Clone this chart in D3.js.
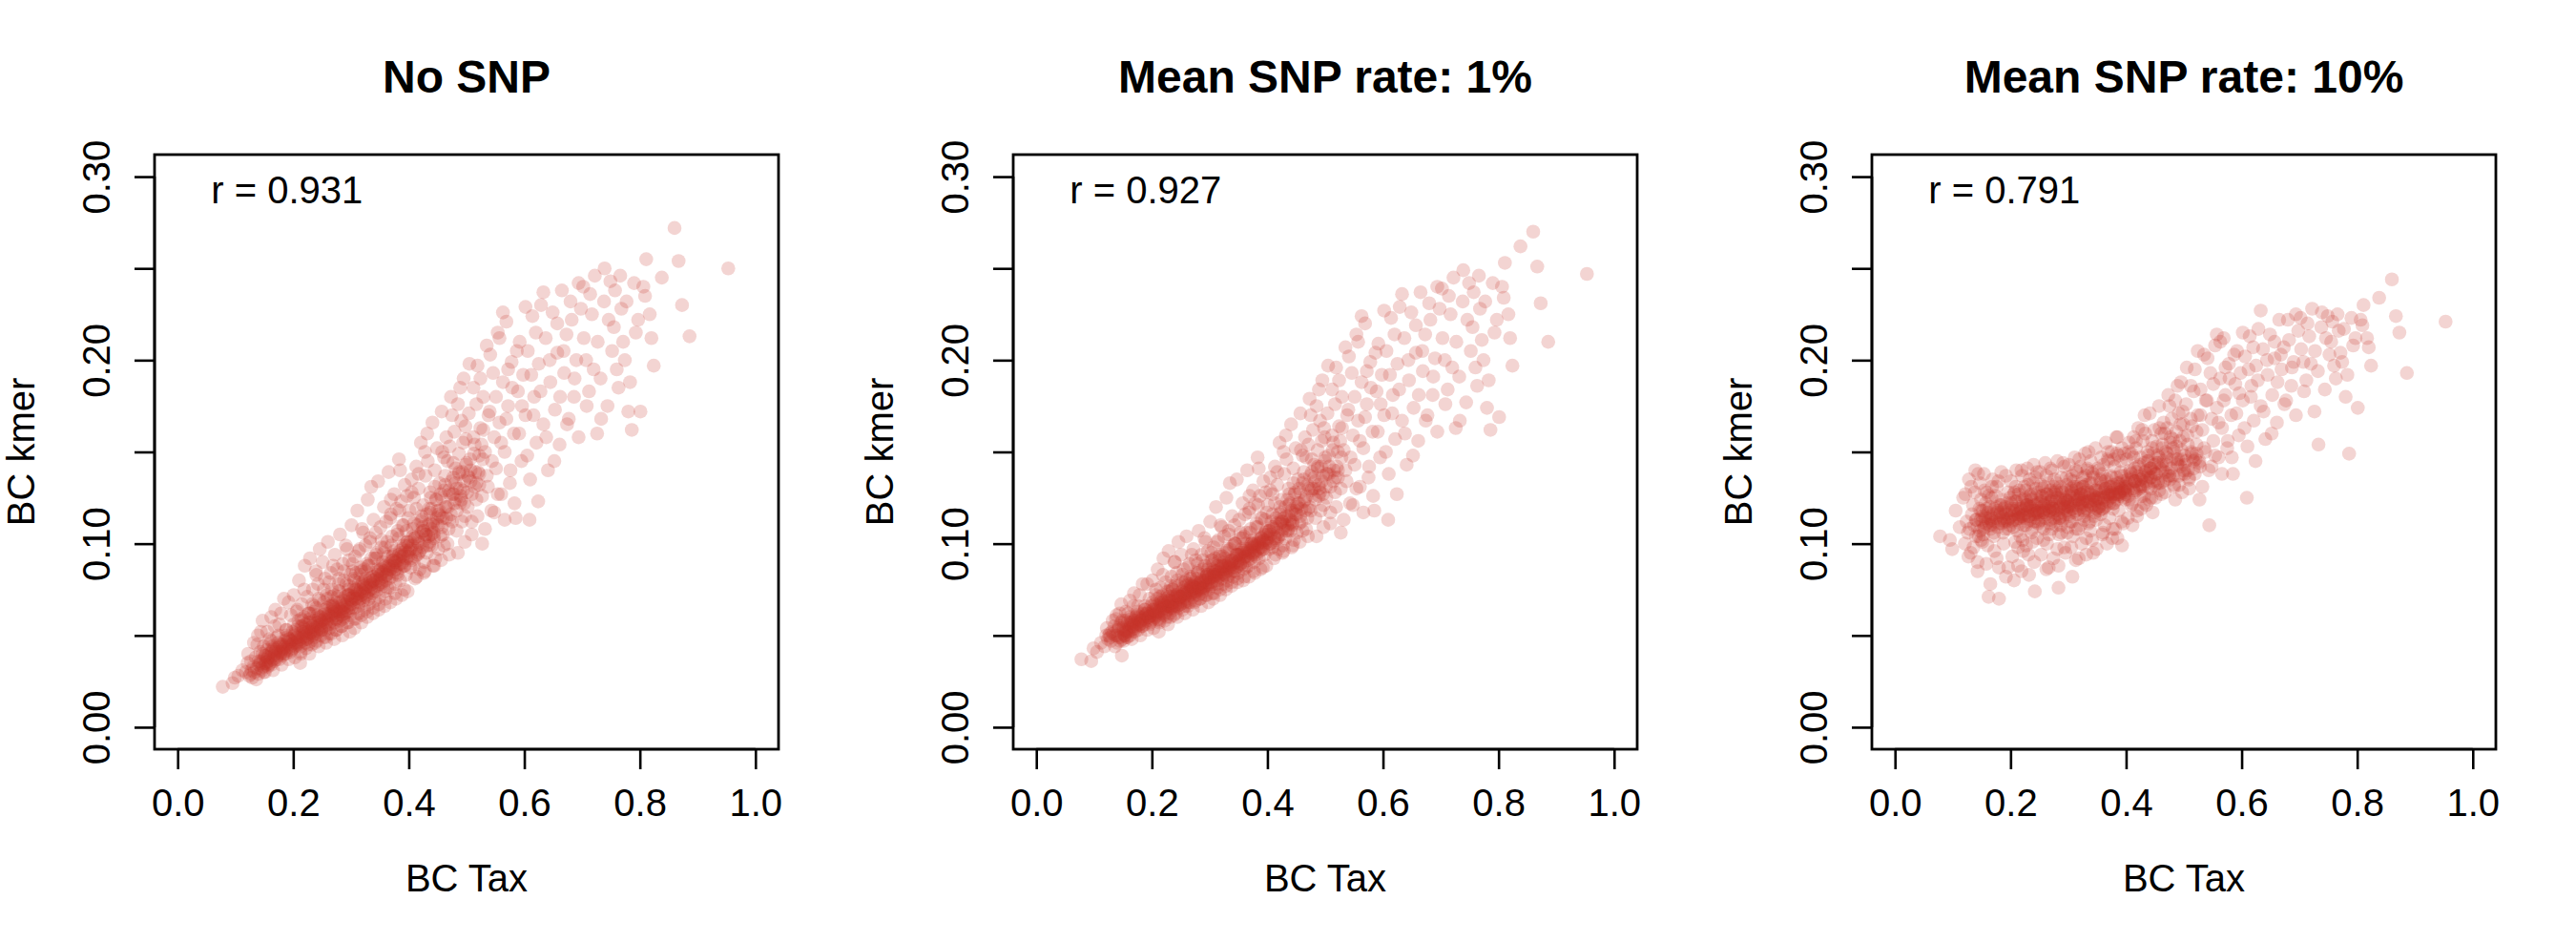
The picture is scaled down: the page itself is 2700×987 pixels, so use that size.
<!DOCTYPE html>
<html>
<head>
<meta charset="utf-8">
<script src="https://cdn.jsdelivr.net/npm/d3@7"></script>
<style>
html,body{margin:0;padding:0;background:#fff;}
svg{display:block;}
text{font-family:"Liberation Sans",Arial,Helvetica,sans-serif;fill:#000;}
</style>
</head>
<body>
<svg id="chart" width="2700" height="987"></svg>
<script>
// ---------------- data ----------------
const panelTitles = ["No SNP", "Mean SNP rate: 1%", "Mean SNP rate: 10%"];
const rLabels = ["r = 0.931", "r = 0.927", "r = 0.791"];
const xTicks = [0, 0.2, 0.4, 0.6, 0.8, 1.0];
const xTickLabels = ["0.0", "0.2", "0.4", "0.6", "0.8", "1.0"];
const yTicks = [0, 0.05, 0.10, 0.15, 0.20, 0.25, 0.30];
const yTickLabels = ["0.00", "", "0.10", "", "0.20", "", "0.30"];
const xLabel = "BC Tax";
const yLabel = "BC kmer";

// BC Tax (shared by all panels)
const xTax = [
.078,.095,.099,
.105,.112,.118,.121,.124,.126,.128,.129,.131,.133,.135,.137,.138,.140,.141,.143,.144,.146,.147,.148,.149,.149,
.151,.152,.153,.154,.155,.156,.157,.158,.159,.160,.161,.162,.163,.164,.165,.166,.167,.168,.169,.170,.171,.172,.173,.174,.175,.176,.177,.178,.179,.180,.181,.182,.183,.184,.185,.186,.187,.188,.189,.190,.191,.192,.193,.194,.195,.196,.197,.198,.199,.199,
.201,.202,.203,.204,.205,.206,.207,.208,.209,.210,.211,.212,.213,.214,.215,.216,.217,.218,.219,.220,.221,.222,.223,.224,.225,.226,.227,.228,.229,.230,.231,.232,.233,.234,.235,.236,.237,.238,.239,.240,.240,.241,.242,.243,.244,.245,.246,.246,.247,.248,.249,.249,.207,.213,.219,.226,.233,.238,.244,.221,.229,.236,
.251,.252,.253,.254,.255,.256,.257,.258,.259,.260,.261,.262,.263,.264,.265,.266,.267,.268,.269,.270,.271,.272,.273,.274,.275,.276,.277,.278,.279,.280,.281,.282,.283,.284,.285,.286,.287,.288,.289,.290,.291,.292,.293,.294,.295,.296,.297,.298,.299,.299,.253,.257,.262,.266,.271,.275,.279,.284,.288,.293,.297,.259,.268,.277,.286,.295,
.301,.302,.303,.304,.305,.306,.307,.308,.309,.310,.311,.312,.313,.314,.315,.316,.317,.318,.319,.320,.321,.322,.323,.324,.325,.326,.327,.328,.329,.330,.331,.332,.333,.334,.335,.336,.337,.338,.339,.340,.341,.342,.343,.344,.345,.346,.347,.348,.349,.303,.308,.313,.318,.323,.328,.333,.338,.343,.348,.306,.316,.326,
.351,.352,.353,.354,.355,.356,.357,.358,.359,.360,.361,.362,.363,.364,.365,.366,.367,.368,.369,.370,.371,.372,.373,.374,.375,.376,.377,.378,.379,.380,.381,.382,.383,.384,.385,.386,.387,.388,.389,.390,.391,.392,.393,.394,.395,.396,.397,.398,.399,.353,.360,.368,.376,.384,.392,
.401,.403,.404,.406,.407,.409,.410,.412,.413,.415,.416,.418,.419,.421,.422,.424,.425,.427,.428,.430,.431,.433,.434,.436,.437,.439,.440,.442,.443,.445,.446,.448,.449,.405,.411,.417,.426,.432,.438,.444,
.451,.453,.455,.457,.459,.461,.463,.465,.467,.469,.471,.473,.475,.477,.479,.481,.483,.485,.487,.489,.490,.492,.494,.496,.497,.498,.499,.458,
.502,.505,.507,.509,.512,.514,.517,.519,.522,.524,.527,.529,.532,.535,.538,.541,.544,.548,
.551,.554,.557,.560,.563,.566,.569,.572,.576,.579,.583,.587,.591,.596,
.602,.605,.609,.612,.616,.620,.624,.628,.633,.638,.644,
.652,.657,.662,.668,.674,.680,.687,.694,
.703,.708,.714,.720,.726,.733,.739,.746,
.752,.757,.763,.768,.774,.780,.786,.793,
.801,.806,.811,.817,.824,.838,
.860,.867,.873,.886,
.953,
.122,.127,.132,.136,.139,.143,.147,.151,.155,.158,.162,.165,.169,.172,.176,.180,.184,.188,.192,.196,
.201,.203,.206,.208,.210,.213,.215,.217,.220,.222,.224,.227,.229,.232,.234,.236,.239,.241,.243,.246,.248,.251,.253,.255,.258,.260,.262,.265,.267,.269,.272,.274,.276,.279,.281,.283,.286,.288,.290,.293,.295,.297,.299,.212,.228,.244,.257,.271,.285,.298,
.301,.303,.305,.307,.309,.311,.313,.315,.317,.319,.321,.323,.325,.327,.329,.331,.333,.335,.337,.339,.341,.343,.345,.347,.349,.351,.353,.355,.357,.359,.361,.363,.365,.367,.369,.371,.373,.375,.377,.379,.381,.383,.385,.387,.389,.391,.393,.395,.397,.399,.306,.318,.328,.338,.348,.358,.368,.378,.388,.398,
.401,.403,.405,.407,.409,.411,.413,.415,.417,.419,.421,.423,.425,.427,.429,.431,.433,.435,.437,.439,.441,.443,.445,.447,.449,.451,.453,.455,.457,.459,.461,.463,.465,.467,.469,.471,.473,.475,.477,.479,.481,.483,.485,.487,.489,.491,.493,.495,.497,.499,.414,.428,.442,.456,.470,
.501,.504,.506,.509,.512,.514,.517,.519,.522,.524,.527,.529,.532,.535,.537,.540,.543,.546,.548,.551,.554,.557,.560,.563,.566,.569,.572,.575,.578,.582,.585,.589,.592,.595,.598,
.602,.606,.610,.614,.617,.621,.625,.629,.633,.637,.641,.645,.649,.653,.657,.661,.665,.669,.673,.677,.682,.686,.690,.694,.698,
.702,.707,.712,.717,.722,.727,.732,.738,.744,.749,.755,.760,.766,.771,.777,.783,.790,.797,.809,.820,
.140,.153,.166,.179,.192,.205,.218,.231,.244,.257,.270,.283,.296,.309,.322,.335,.348,.361,.374,.387,.400,.413,.426,.439,.452,.465,.478,.491,.504,.517,
.145,.158,.171,.184,.197,.210,.223,.236,.249,.262,.275,.288,.301,.314,.327,.340,.353,.366,.379,.392,.405,.418,.431,.444,.457,.470,.483,.496,.509,.522,
.149,.162,.175,.188,.201,.214,.227,.240,.253,.266,.279,.292,.305,.318,.331,.344,.357,.370,.383,.396,.409,.422,.435,.448,.461,.474,.487,.500,.513,.526,
.143,.156,.169,.182,.195,.208,.221,.234,.247,.260,.273,.286,.299,.312,.325,.338,.351,.364,.377,.390,.403,.416,.429,.442,.455,.468,.481,.494,.507,.520,
.151,.164,.177,.190,.203,.216,.229,.242,.255,.268,.281,.294,.307,.320,.333,.346,.359,.372,.385,.398,.411,.424,.437,.450,.463,.476,.489,.502,.515,.528
];

// BC kmer, No SNP
const yNoSnp = [
.022,.024,.027,
.028,.031,.030,.035,.028,.029,.031,.027,.033,.030,.038,.032,.045,.029,.034,.036,.052,.031,.040,.033,.037,.030,
.035,.039,.034,.042,.037,.033,.036,.040,.048,.035,.038,.034,.041,.044,.037,.039,.036,.055,.040,.042,.038,.043,.039,.046,.041,.037,.044,.040,.062,.042,.045,.039,.043,.041,.047,.044,.040,.050,.043,.046,.042,.068,.045,.048,.044,.041,.047,.045,.052,.043,
.046,.050,.044,.048,.053,.045,.049,.047,.058,.046,.051,.048,.044,.055,.050,.047,.052,.049,.075,.051,.046,.053,.050,.048,.057,.052,.049,.054,.051,.062,.047,.053,.055,.050,.052,.058,.049,.054,.056,.051,.083,.053,.057,.055,.052,.060,.054,.097,.056,.050,.058,.053,.064,.040,.060,.045,.067,.046,.070,.056,.059,.063,
.057,.061,.055,.059,.064,.053,.060,.058,.070,.056,.062,.059,.054,.066,.061,.058,.063,.060,.088,.062,.057,.064,.061,.059,.068,.063,.060,.065,.062,.074,.058,.064,.066,.061,.063,.069,.060,.065,.067,.062,.099,.064,.068,.066,.063,.072,.065,.061,.067,.070,.075,.049,.079,.051,.072,.053,.081,.055,.085,.057,.077,.065,.067,.071,.059,.075,
.069,.073,.067,.071,.076,.065,.072,.070,.084,.068,.074,.071,.066,.079,.073,.070,.075,.072,.108,.074,.069,.077,.073,.071,.081,.076,.072,.078,.074,.088,.070,.077,.079,.075,.131,.078,.073,.080,.082,.076,.092,.079,.074,.081,.083,.077,.085,.080,.078,.089,.059,.096,.061,.086,.063,.101,.065,.094,.067,.080,.083,.085,
.081,.086,.079,.084,.090,.077,.085,.082,.098,.080,.087,.083,.076,.093,.088,.084,.089,.086,.124,.088,.082,.091,.087,.085,.096,.090,.086,.092,.088,.105,.083,.091,.094,.089,.140,.093,.087,.095,.097,.090,.110,.094,.088,.096,.099,.092,.101,.095,.093,.102,.070,.114,.073,.118,.075,
.096,.101,.092,.099,.108,.089,.103,.097,.119,.094,.104,.100,.086,.112,.106,.098,.107,.102,.150,.105,.095,.110,.104,.101,.117,.108,.099,.112,.106,.131,.092,.111,.114,.128,.081,.138,.084,.160,.125,.088,
.110,.118,.104,.125,.114,.099,.132,.120,.145,.108,.127,.116,.170,.136,.122,.141,.130,.095,.138,.185,.126,.112,.155,.134,.101,.164,.143,.150,
.120,.198,.140,.105,.158,.131,.176,.115,.148,.190,.126,.162,.108,.137,.170,.203,.145,.117,
.180,.127,.212,.155,.226,.113,.168,.195,.140,.185,.122,.205,.160,.175,
.229,.148,.113,.192,.170,.215,.123,.183,.237,.158,.200,
.145,.220,.180,.205,.165,.232,.190,.242,
.212,.175,.236,.195,.160,.168,.250,.222,
.205,.238,.185,.228,.200,.172,.162,.215,
.172,.240,.255,.225,.197,.245,
.272,.254,.230,.213,
.250,
.040,.036,.046,.026,.050,.041,.058,.030,.052,.045,.060,.031,.064,.049,.056,.034,.070,.053,.037,.061,
.072,.038,.063,.055,.080,.041,.067,.058,.088,.043,.071,.062,.092,.045,.075,.066,.085,.047,.078,.069,.060,.090,.049,.081,.072,.101,.051,.084,.075,.066,.094,.053,.086,.078,.105,.055,.089,.080,.071,.097,.057,.091,.083,.035,.040,.044,.046,.048,.050,.052,
.110,.085,.059,.093,.075,.118,.062,.097,.087,.078,.106,.064,.099,.089,.124,.067,.103,.092,.082,.113,.069,.106,.095,.134,.071,.109,.098,.088,.120,.074,.112,.101,.139,.076,.116,.104,.094,.127,.078,.119,.107,.146,.080,.123,.110,.099,.132,.083,.126,.114,.054,.057,.060,.062,.064,.066,.068,.070,.072,.074,
.118,.087,.135,.104,.125,.093,.142,.110,.130,.096,.155,.113,.121,.090,.137,.116,.145,.099,.128,.119,.166,.103,.140,.124,.152,.097,.133,.127,.172,.105,.147,.137,.158,.100,.129,.153,.180,.112,.144,.161,.133,.107,.176,.149,.122,.167,.139,.190,.115,.157,.082,.085,.088,.091,.094,
.128,.171,.146,.112,.185,.154,.124,.197,.138,.163,.100,.180,.150,.208,.131,.172,.118,.193,.158,.141,.215,.166,.127,.188,.150,.221,.175,.133,.199,.160,.114,.183,.210,.145,.192,
.170,.205,.135,.224,.180,.155,.198,.230,.165,.212,.140,.188,.226,.173,.204,.154,.238,.193,.214,.168,.222,.180,.200,.158,.228,
.240,.200,.183,.225,.246,.210,.190,.232,.175,.243,.218,.195,.246,.210,.232,.188,.242,.222,.235,.212,
.036,.035,.043,.041,.048,.046,.054,.052,.059,.057,.065,.063,.072,.070,.078,.076,.085,.083,.091,.089,.099,.096,.107,.105,.116,.114,.127,.124,.136,.133,
.032,.034,.037,.040,.042,.045,.048,.051,.053,.056,.059,.062,.065,.068,.071,.074,.078,.081,.084,.088,.091,.095,.099,.104,.109,.113,.118,.122,.127,.132,
.044,.047,.050,.053,.056,.059,.062,.065,.068,.071,.074,.078,.081,.085,.088,.092,.095,.099,.103,.107,.111,.115,.119,.124,.129,.134,.139,.144,.149,.154,
.035,.038,.041,.044,.047,.049,.052,.055,.058,.061,.064,.067,.070,.073,.076,.080,.083,.086,.090,.093,.097,.101,.105,.110,.115,.120,.124,.129,.134,.139,
.039,.042,.045,.049,.051,.055,.057,.061,.062,.066,.068,.072,.075,.079,.081,.086,.088,.093,.096,.101,.103,.109,.111,.118,.120,.127,.130,.137,.139,.146
];

// BC kmer, mean SNP rate 1%
const ySnp1 = [
.037,.036,.043,
.041,.046,.044,.050,.048,.050,.049,.047,.052,.051,.055,.050,.059,.046,.053,.054,.062,.049,.057,.039,.054,.048,
.051,.055,.050,.058,.053,.049,.052,.056,.062,.052,.054,.050,.057,.059,.053,.055,.052,.066,.056,.058,.054,.059,.055,.061,.057,.053,.060,.056,.072,.058,.060,.055,.059,.057,.062,.060,.056,.064,.059,.061,.058,.078,.060,.063,.060,.056,.062,.061,.066,.058,
.061,.064,.059,.063,.067,.060,.064,.062,.070,.061,.065,.063,.059,.068,.065,.062,.066,.064,.083,.065,.061,.067,.065,.063,.070,.066,.064,.068,.066,.074,.062,.067,.069,.065,.066,.071,.064,.068,.070,.066,.090,.067,.071,.069,.066,.073,.068,.101,.070,.065,.071,.067,.075,.058,.072,.060,.077,.061,.080,.069,.071,.075,
.071,.074,.069,.072,.076,.068,.073,.072,.080,.070,.075,.073,.068,.078,.074,.072,.076,.073,.094,.075,.071,.077,.074,.073,.079,.076,.074,.077,.075,.084,.072,.077,.079,.075,.076,.080,.074,.078,.079,.076,.103,.077,.080,.079,.077,.083,.078,.075,.079,.081,.083,.066,.087,.068,.082,.069,.089,.070,.091,.072,.086,.077,.078,.081,.073,.084,
.081,.084,.079,.082,.086,.078,.083,.082,.092,.080,.085,.083,.078,.088,.084,.082,.086,.083,.110,.085,.081,.087,.084,.083,.090,.086,.084,.088,.085,.096,.082,.087,.089,.086,.133,.088,.084,.090,.091,.087,.099,.089,.085,.090,.092,.087,.094,.090,.088,.095,.073,.101,.075,.093,.077,.105,.079,.100,.081,.089,.091,.092,
.091,.094,.089,.093,.097,.088,.094,.092,.104,.090,.095,.093,.087,.100,.096,.093,.097,.095,.126,.096,.092,.098,.095,.094,.102,.098,.095,.099,.096,.109,.093,.099,.100,.097,.141,.100,.096,.101,.103,.098,.114,.101,.097,.102,.105,.100,.106,.102,.101,.106,.082,.117,.085,.121,.087,
.103,.107,.100,.105,.112,.098,.109,.104,.122,.102,.109,.106,.097,.116,.111,.105,.112,.108,.150,.110,.103,.115,.110,.108,.121,.113,.107,.117,.112,.133,.102,.116,.118,.129,.092,.139,.095,.159,.127,.099,
.116,.122,.111,.128,.119,.107,.135,.124,.147,.114,.130,.120,.170,.139,.126,.143,.134,.104,.141,.184,.130,.118,.156,.137,.109,.163,.145,.151,
.125,.197,.142,.111,.159,.134,.176,.120,.150,.189,.130,.163,.113,.140,.170,.202,.147,.121,
.180,.130,.210,.156,.224,.117,.169,.194,.142,.185,.126,.204,.161,.176,
.227,.150,.113,.192,.171,.214,.127,.184,.236,.160,.200,
.148,.219,.181,.205,.167,.231,.191,.240,
.212,.176,.235,.196,.163,.167,.249,.222,
.205,.237,.186,.228,.200,.174,.162,.215,
.169,.240,.253,.225,.197,.262,
.270,.251,.231,.210,
.247,
.054,.051,.058,.044,.061,.055,.067,.047,.063,.057,.069,.048,.073,.060,.066,.050,.078,.064,.053,.070,
.080,.054,.072,.066,.086,.057,.076,.069,.092,.058,.079,.072,.096,.060,.082,.075,.090,.062,.084,.077,.071,.094,.064,.086,.079,.104,.066,.089,.081,.075,.097,.068,.091,.084,.107,.070,.094,.086,.080,.101,.072,.096,.088,.052,.056,.060,.062,.064,.066,.068,
.112,.091,.073,.098,.083,.120,.076,.102,.093,.086,.109,.078,.104,.095,.125,.080,.107,.097,.089,.115,.082,.110,.100,.135,.084,.113,.103,.095,.122,.086,.116,.106,.140,.088,.119,.108,.100,.129,.090,.122,.111,.147,.092,.126,.114,.104,.134,.094,.128,.117,.070,.072,.075,.077,.079,.080,.082,.084,.086,.088,
.121,.097,.136,.109,.127,.101,.142,.114,.132,.104,.155,.117,.124,.099,.138,.120,.146,.107,.130,.122,.165,.110,.141,.127,.152,.106,.135,.130,.171,.112,.148,.139,.158,.108,.132,.154,.179,.118,.146,.162,.136,.114,.175,.151,.126,.167,.142,.189,.121,.158,.094,.096,.098,.101,.104,
.131,.171,.148,.117,.184,.155,.128,.196,.140,.164,.106,.180,.151,.207,.134,.173,.122,.193,.159,.143,.214,.167,.131,.188,.152,.220,.176,.136,.199,.161,.118,.183,.209,.147,.192,
.170,.205,.138,.223,.181,.157,.198,.229,.167,.212,.143,.189,.226,.174,.204,.156,.237,.194,.214,.170,.222,.181,.201,.161,.228,
.239,.200,.184,.225,.245,.210,.191,.232,.177,.242,.218,.196,.246,.211,.232,.189,.242,.222,.234,.212,
.050,.050,.057,.056,.062,.061,.068,.066,.072,.071,.077,.076,.083,.082,.088,.087,.094,.093,.099,.098,.105,.103,.112,.111,.120,.118,.130,.128,.138,.136,
.047,.049,.052,.055,.057,.059,.062,.065,.067,.069,.072,.075,.077,.080,.083,.085,.089,.091,.094,.097,.100,.103,.107,.111,.115,.119,.124,.127,.131,.136,
.058,.060,.063,.066,.068,.071,.074,.077,.079,.082,.085,.088,.091,.094,.097,.100,.103,.106,.109,.113,.116,.120,.124,.128,.133,.137,.142,.147,.151,.156,
.049,.052,.055,.058,.060,.063,.066,.068,.071,.074,.076,.079,.082,.085,.088,.091,.094,.097,.100,.103,.107,.111,.114,.118,.122,.126,.130,.134,.138,.142,
.053,.056,.059,.062,.064,.067,.069,.072,.073,.077,.078,.082,.085,.088,.090,.094,.096,.100,.102,.107,.108,.113,.115,.121,.123,.129,.132,.138,.140,.147
];

// BC kmer, mean SNP rate 10%
const ySnp10 = [
.104,.102,.097,
.118,.109,.125,.100,.112,.106,.135,.108,.095,.116,.121,.110,.128,.104,.113,.090,.138,.119,.107,.113,.124,.102,
.112,.118,.105,.138,.109,.115,.122,.111,.128,.099,.117,.071,.114,.120,.108,.113,.125,.131,.110,.116,.104,.119,.112,.126,.114,.092,.118,.109,.134,.070,.121,.113,.117,.111,.124,.115,.106,.119,.113,.120,.108,.137,.116,.122,.112,.087,.118,.114,.125,.110,
.115,.121,.112,.118,.109,.080,.116,.123,.131,.113,.119,.107,.114,.127,.117,.111,.120,.115,.140,.118,.102,.122,.114,.116,.125,.119,.110,.121,.117,.132,.094,.115,.120,.113,.118,.124,.108,.119,.116,.112,.143,.121,.074,.118,.114,.126,.117,.139,.122,.111,.119,.116,.128,.098,.085,.129,.135,.101,.130,.124,.112,.127,
.118,.123,.113,.120,.126,.109,.117,.121,.131,.114,.119,.116,.100,.127,.122,.115,.118,.113,.141,.120,.108,.124,.117,.119,.128,.121,.112,.123,.118,.133,.097,.116,.076,.114,.120,.125,.110,.121,.117,.113,.144,.122,.119,.116,.124,.129,.118,.106,.120,.123,.132,.102,.137,.087,.126,.131,.129,.105,.136,.098,.132,.125,.111,.127,.115,.124,
.120,.126,.115,.122,.128,.112,.082,.119,.134,.117,.123,.118,.108,.130,.124,.116,.121,.119,.146,.125,.110,.127,.120,.122,.131,.124,.115,.126,.121,.137,.103,.119,.123,.118,.150,.125,.112,.127,.122,.120,.139,.124,.095,.126,.121,.117,.129,.123,.119,.135,.104,.140,.092,.133,.128,.141,.107,.136,.113,.129,.126,.131,
.124,.129,.120,.127,.133,.116,.125,.122,.138,.119,.128,.124,.110,.134,.130,.121,.126,.123,.150,.127,.114,.131,.125,.128,.136,.129,.119,.132,.126,.142,.108,.127,.130,.124,.158,.131,.118,.133,.128,.126,.145,.130,.099,.134,.129,.125,.137,.131,.127,.140,.106,.146,.103,.149,.112,
.131,.135,.126,.133,.140,.121,.136,.130,.147,.128,.134,.129,.115,.142,.137,.131,.135,.132,.162,.136,.122,.139,.134,.133,.145,.138,.124,.141,.136,.152,.117,.139,.143,.150,.110,.156,.119,.170,.148,.125,
.138,.144,.133,.147,.141,.127,.152,.145,.160,.135,.149,.139,.175,.155,.146,.157,.150,.124,.153,.186,.146,.132,.165,.151,.128,.172,.158,.163,
.143,.196,.154,.130,.168,.149,.183,.138,.161,.205,.145,.170,.131,.152,.178,.201,.110,.142,
.187,.148,.214,.166,.210,.138,.178,.196,.156,.190,.147,.203,.171,.182,
.215,.163,.125,.195,.180,.207,.145,.189,.227,.172,.200,
.160,.210,.188,.203,.176,.222,.196,.225,
.206,.183,.220,.198,.172,.154,.226,.212,
.203,.221,.190,.216,.199,.180,.149,.208,
.174,.222,.230,.212,.197,.234,
.244,.224,.215,.193,
.221,
.127,.093,.131,.098,.140,.085,.133,.101,.129,.089,.126,.078,.135,.096,.131,.087,.139,.100,.082,.128,
.134,.093,.127,.101,.140,.088,.129,.104,.137,.096,.131,.099,.141,.083,.126,.106,.133,.090,.136,.103,.128,.139,.094,.130,.108,.144,.086,.133,.105,.129,.140,.092,.135,.110,.145,.088,.131,.106,.128,.142,.095,.136,.109,.116,.121,.112,.118,.120,.114,.123,
.143,.112,.098,.137,.131,.147,.091,.139,.108,.130,.142,.100,.136,.113,.149,.094,.140,.111,.133,.145,.102,.138,.115,.152,.097,.141,.118,.135,.147,.105,.143,.120,.155,.100,.145,.122,.137,.150,.108,.146,.125,.158,.103,.148,.127,.139,.152,.111,.149,.130,.119,.124,.117,.121,.125,.119,.127,.122,.128,.124,
.146,.114,.155,.139,.149,.122,.158,.141,.152,.118,.163,.143,.147,.126,.156,.144,.160,.121,.150,.145,.171,.130,.156,.149,.162,.125,.153,.148,.175,.133,.160,.154,.166,.128,.150,.163,.181,.137,.158,.168,.152,.131,.178,.161,.144,.171,.156,.188,.138,.165,.134,.137,.141,.144,.147,
.148,.176,.159,.136,.186,.164,.145,.195,.154,.170,.124,.184,.162,.203,.150,.178,.140,.193,.168,.156,.208,.174,.147,.190,.163,.212,.181,.152,.198,.170,.138,.187,.205,.159,.193,
.178,.202,.153,.213,.186,.167,.197,.217,.175,.206,.157,.192,.214,.181,.201,.166,.222,.195,.207,.178,.211,.186,.199,.170,.216,
.223,.199,.189,.213,.228,.205,.194,.218,.184,.224,.210,.197,.225,.204,.217,.192,.223,.212,.219,.207,
.113,.108,.115,.111,.117,.113,.119,.115,.121,.117,.123,.119,.125,.121,.127,.123,.129,.125,.131,.127,.133,.129,.135,.131,.138,.134,.141,.137,.145,.141,
.104,.119,.106,.121,.108,.123,.110,.125,.112,.127,.114,.129,.116,.131,.118,.133,.120,.135,.122,.137,.124,.139,.126,.141,.129,.143,.132,.146,.135,.149,
.118,.112,.120,.114,.122,.116,.124,.118,.126,.120,.128,.122,.130,.124,.132,.126,.134,.128,.136,.130,.138,.132,.140,.134,.143,.137,.146,.140,.150,.144,
.109,.114,.111,.116,.113,.118,.115,.120,.117,.122,.119,.124,.121,.126,.123,.128,.125,.130,.127,.132,.129,.134,.131,.136,.134,.139,.137,.142,.140,.146,
.115,.110,.117,.112,.119,.114,.121,.116,.123,.118,.125,.120,.127,.122,.129,.124,.131,.126,.133,.128,.135,.130,.137,.132,.140,.135,.143,.138,.147,.142
];

const ySeries = [yNoSnp, ySnp1, ySnp10];

// ---------------- layout ----------------
const panelW = 900;
const box = {left: 162, right: 816, top: 162, bottom: 785};
const ptColor = "rgb(200,52,42)";

const svg = d3.select("#chart");

const x = d3.scaleLinear().domain([-0.04, 1.04]).range([box.left, box.right]);
const y = d3.scaleLinear().domain([-0.012, 0.312]).range([box.bottom, box.top]);

panelTitles.forEach((title, i) => {
  const g = svg.append("g").attr("transform", `translate(${i * panelW},0)`);
  const ys = ySeries[i];
  const n = Math.min(xTax.length, ys.length);

  // points
  const pts = d3.range(n).map(k => [xTax[k], ys[k]]);
  g.append("g").selectAll("circle").data(pts).join("circle")
    .attr("cx", d => x(d[0]))
    .attr("cy", d => y(d[1]))
    .attr("r", 7.3)
    .attr("fill", ptColor)
    .attr("fill-opacity", 0.21);

  // x axis
  const xAxis = d3.axisBottom(x).tickValues(xTicks)
    .tickFormat((d, k) => xTickLabels[k]).tickSize(21).tickPadding(14);
  const gx = g.append("g").attr("transform", `translate(0,${box.bottom})`).call(xAxis);
  gx.select(".domain").attr("d", `M${x(0)},0H${x(1)}`).attr("stroke-width", 2.6);
  gx.selectAll(".tick line").attr("stroke-width", 2.6);
  gx.selectAll(".tick text").attr("font-size", 40).attr("dy", 0)
    .attr("y", 70).style("font-family", '"Liberation Sans", Arial, sans-serif');

  // y axis
  const yAxis = d3.axisLeft(y).tickValues(yTicks)
    .tickFormat((d, k) => yTickLabels[k]).tickSize(21);
  const gy = g.append("g").attr("transform", `translate(${box.left},0)`).call(yAxis);
  gy.select(".domain").attr("d", `M0,${y(0)}V${y(0.3)}`).attr("stroke-width", 2.6);
  gy.selectAll(".tick line").attr("stroke-width", 2.6);
  gy.selectAll(".tick text")
    .attr("font-size", 40)
    .attr("x", null).attr("dy", 0)
    .attr("text-anchor", "middle")
    .attr("transform", "translate(-47,0) rotate(-90)")
    .style("font-family", '"Liberation Sans", Arial, sans-serif');

  // box
  g.append("rect")
    .attr("x", box.left).attr("y", box.top)
    .attr("width", box.right - box.left).attr("height", box.bottom - box.top)
    .attr("fill", "none").attr("stroke", "#000").attr("stroke-width", 2.8);

  // title
  g.append("text")
    .attr("x", (box.left + box.right) / 2).attr("y", 97)
    .attr("text-anchor", "middle").attr("font-size", 48).attr("font-weight", "bold")
    .text(title);

  // r label
  g.append("text")
    .attr("x", x(0.058)).attr("y", 213)
    .attr("font-size", 40)
    .text(rLabels[i]);

  // axis titles
  g.append("text")
    .attr("x", (box.left + box.right) / 2).attr("y", 934)
    .attr("text-anchor", "middle").attr("font-size", 40)
    .text(xLabel);
  g.append("text")
    .attr("transform", `translate(36,${(box.top + box.bottom) / 2}) rotate(-90)`)
    .attr("text-anchor", "middle").attr("font-size", 40)
    .text(yLabel);
});
</script>
</body>
</html>
